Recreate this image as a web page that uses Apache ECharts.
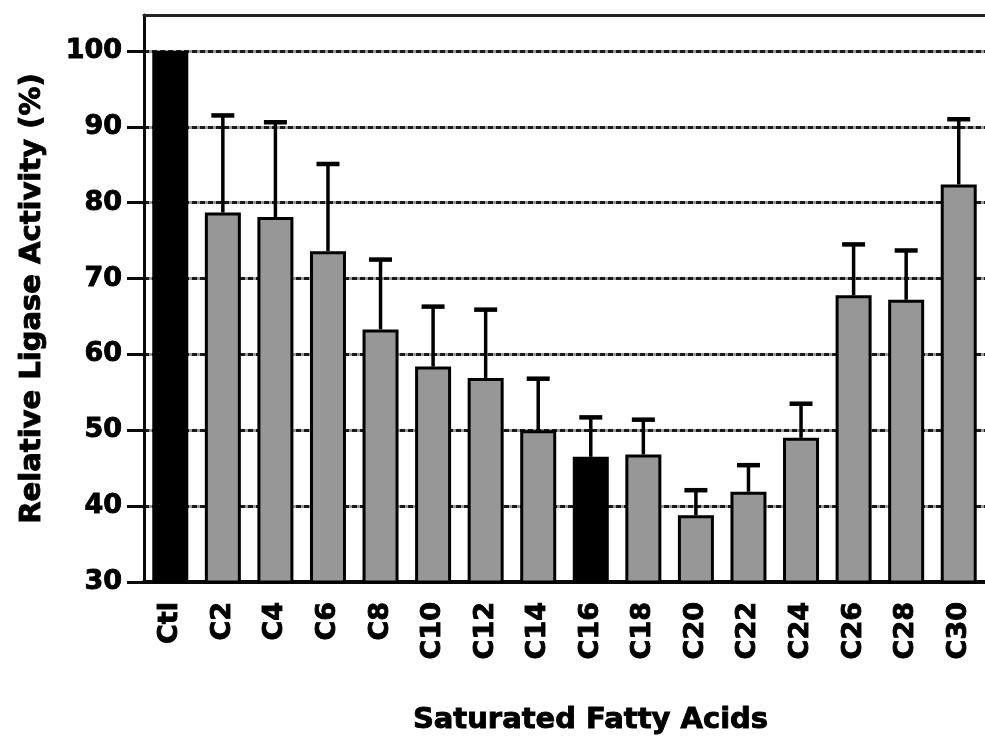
<!DOCTYPE html>
<html>
<head>
<meta charset="utf-8">
<script src="https://cdn.jsdelivr.net/npm/echarts@6/dist/echarts.min.js"></script>
<style>
  html, body { margin: 0; padding: 0; background: #fff; }
  #chart { width: 985px; height: 741px; }
</style>
</head>
<body>
<div id="chart"></div>
<script>
// Relative ligase activity after treatment with saturated fatty acids (mean + SEM)
const categories = ['Ctl', 'C2', 'C4', 'C6', 'C8', 'C10', 'C12', 'C14', 'C16', 'C18', 'C20', 'C22', 'C24', 'C26', 'C28', 'C30'];
const activity   = [100, 78.7, 78.1, 73.6, 63.3, 58.4, 56.9, 50.0, 46.5, 46.8, 38.8, 41.9, 49.0, 67.8, 67.2, 82.4];
const sem        = [null, 12.8, 12.5, 11.5, 9.2, 7.9, 9.0, 6.8, 5.2, 4.6, 3.3, 3.5, 4.5, 6.7, 6.5, 8.6];
const blackBars  = ['Ctl', 'C16'];
const yTicks     = [30, 40, 50, 60, 70, 80, 90, 100];

const FONT = 'DejaVu Sans';
const INK = '#0a0a0a';

// heavy black lettering
const heavy = { color: '#000', fontFamily: FONT, fontWeight: 'bold', textBorderColor: '#000', textBorderWidth: 0.9 };

const barData = activity.map((v, i) => ({
  value: v,
  itemStyle: blackBars.includes(categories[i])
    ? { color: '#000', borderColor: '#000' }
    : { color: '#979797', borderColor: '#000' }
}));

const errData = activity.map((v, i) => [i, v, sem[i] == null ? null : v + sem[i]]);

const chart = echarts.init(document.getElementById('chart'), null, { renderer: 'canvas' });

chart.setOption({
  animation: false,
  backgroundColor: '#fff',
  grid: { left: 144, top: 15, width: 853, height: 567, containLabel: false },
  xAxis: [
    {
      type: 'category',
      data: categories,
      boundaryGap: true,
      position: 'bottom',
      axisLine: { lineStyle: { color: INK, width: 4 } },
      axisTick: { alignWithLabel: true, length: 17, lineStyle: { color: INK, width: 3 } },
      axisLabel: Object.assign({ rotate: 90, margin: 20, fontSize: 27 }, heavy),
      name: 'Saturated Fatty Acids',
      nameLocation: 'middle',
      nameGap: 124,
      nameTextStyle: Object.assign({ fontSize: 29, padding: [0, 0, 0, 52] }, heavy)
    },
    {
      type: 'category',
      data: categories,
      position: 'top',
      axisLine: { lineStyle: { color: '#222', width: 3 } },
      axisTick: { show: false },
      axisLabel: { show: false }
    }
  ],
  yAxis: [
    {
      type: 'value',
      min: 30,
      max: 104.74,
      interval: 10,
      axisLine: { show: true, lineStyle: { color: INK, width: 3 } },
      axisTick: { show: true, length: 17, customValues: yTicks, lineStyle: { color: INK, width: 3 } },
      axisLabel: Object.assign({ margin: 22, customValues: yTicks, fontSize: 27 }, heavy),
      splitLine: { show: true, lineStyle: { color: '#9a9a9a', width: 3, type: 'solid' } },
      name: 'Relative Ligase Activity (%)',
      nameLocation: 'middle',
      nameGap: 97,
      nameTextStyle: Object.assign({ fontSize: 29 }, heavy)
    },
    {
      type: 'value',
      min: 30,
      max: 104.74,
      interval: 10,
      position: 'left',
      axisLine: { show: false },
      axisTick: { show: false },
      axisLabel: { show: false },
      splitLine: { show: true, lineStyle: { color: '#1a1a1a', width: 3, type: [5, 3] } }
    }
  ],
  series: [
    {
      type: 'bar',
      data: barData,
      barWidth: 36,
      itemStyle: { borderWidth: 3 },
      z: 2
    },
    {
      type: 'custom',
      data: errData,
      z: 3,
      renderItem: function (params, api) {
        const upper = api.value(2);
        if (upper == null || isNaN(upper)) return null;
        const base = api.coord([api.value(0), api.value(1)]);
        const top = api.coord([api.value(0), upper]);
        const half = 11.5;
        const stem = { stroke: '#000', lineWidth: 3.5 };
        const cap = { stroke: '#000', lineWidth: 4.5 };
        return {
          type: 'group',
          children: [
            { type: 'line', shape: { x1: base[0], y1: base[1], x2: top[0], y2: top[1] }, style: stem },
            { type: 'line', shape: { x1: top[0] - half, y1: top[1], x2: top[0] + half, y2: top[1] }, style: cap }
          ]
        };
      }
    }
  ]
});
</script>
</body>
</html>
